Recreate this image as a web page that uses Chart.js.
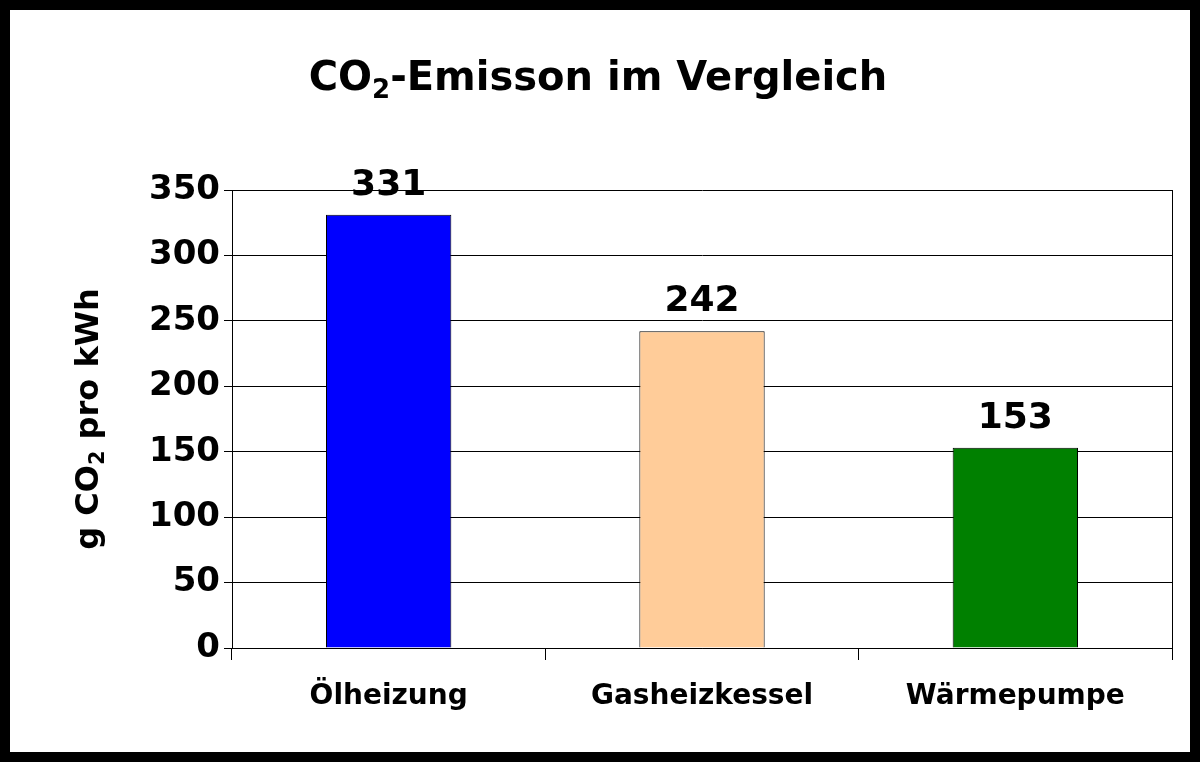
<!DOCTYPE html>
<html>
<head>
<meta charset="utf-8">
<script src="https://cdn.jsdelivr.net/npm/chart.js@4"></script>
<style>
  body { margin: 0; background: #000; }
  #wrap { width: 1180px; height: 742px; border: 10px solid #000; background: #fff; }
</style>
</head>
<body>
<div id="wrap"><canvas id="c" width="1180" height="742"></canvas></div>
<script>
// Daten
const categories = ['Ölheizung', 'Gasheizkessel', 'Wärmepumpe'];
const values = [331, 242, 153];
const barColors = ['#0000FF', '#FFCC99', '#008000'];
const FONT = '"DejaVu Sans", Verdana, sans-serif';

// Text mit tiefgestellter "2" zeichnen
function drawSub(ctx, parts, x, y, size, align) {
    ctx.font = `bold ${size}px ${FONT}`;
    let total = 0;
    parts.forEach(p => {
        ctx.font = `bold ${p.sub ? size * 0.65 : size}px ${FONT}`;
        total += ctx.measureText(p.t).width;
    });
    let cx = align === 'center' ? x - total / 2 : x;
    parts.forEach(p => {
        ctx.font = `bold ${p.sub ? size * 0.65 : size}px ${FONT}`;
        ctx.fillText(p.t, cx, p.sub ? y + size * 0.2 : y);
        cx += ctx.measureText(p.t).width;
    });
}

const extras = {
    id: 'extras',
    afterDraw(chart) {
        const ctx = chart.ctx, a = chart.chartArea;
        ctx.save();
        ctx.fillStyle = '#000';
        ctx.textBaseline = 'alphabetic';
        ctx.textAlign = 'left';
        // Titel
        drawSub(ctx, [{t: 'CO'}, {t: '2', sub: true}, {t: '-Emisson im Vergleich'}], 588, 80, 40, 'center');
        // Y-Achsentitel
        ctx.save();
        ctx.translate(88, (a.top + a.bottom) / 2);
        ctx.rotate(-Math.PI / 2);
        drawSub(ctx, [{t: 'g CO'}, {t: '2', sub: true}, {t: ' pro kWh'}], 0, 0, 32, 'center');
        ctx.restore();
        // rechte Rahmenlinie
        ctx.strokeStyle = '#000';
        ctx.lineWidth = 1;
        ctx.beginPath();
        ctx.moveTo(a.right + 0.5, a.top);
        ctx.lineTo(a.right + 0.5, a.bottom);
        ctx.stroke();
        // Werte über den Balken
        ctx.textAlign = 'center';
        ctx.font = `bold 36px ${FONT}`;
        chart.getDatasetMeta(0).data.forEach((bar, i) => {
            ctx.fillText(values[i], bar.x, bar.y - 20);
        });
        ctx.restore();
    }
};

new Chart(document.getElementById('c'), {
    type: 'bar',
    data: {
        labels: categories,
        datasets: [{
            data: values,
            backgroundColor: barColors,
            borderColor: '#000',
            borderWidth: 1,
            categoryPercentage: 0.4,
            barPercentage: 1
        }]
    },
    options: {
        responsive: false,
        animation: false,
        layout: { padding: { top: 180, right: 18, left: 0, bottom: 0 } },
        plugins: { legend: { display: false }, tooltip: { enabled: false } },
        scales: {
            x: {
                afterFit: s => { s.height = 104; },
                grid: { offset: true, drawOnChartArea: false, drawTicks: true, tickLength: 12, color: '#000' },
                border: { color: '#000' },
                ticks: { color: '#000', padding: 20, font: { family: FONT, size: 28, weight: 'bold' } }
            },
            y: {
                min: 0, max: 350,
                afterFit: s => { s.width = 222; },
                grid: { color: '#000', tickLength: 8 },
                border: { color: '#000' },
                ticks: { stepSize: 50, color: '#000', padding: 4, font: { family: FONT, size: 34, weight: 'bold' } }
            }
        }
    },
    plugins: [extras]
});
</script>
</body>
</html>
